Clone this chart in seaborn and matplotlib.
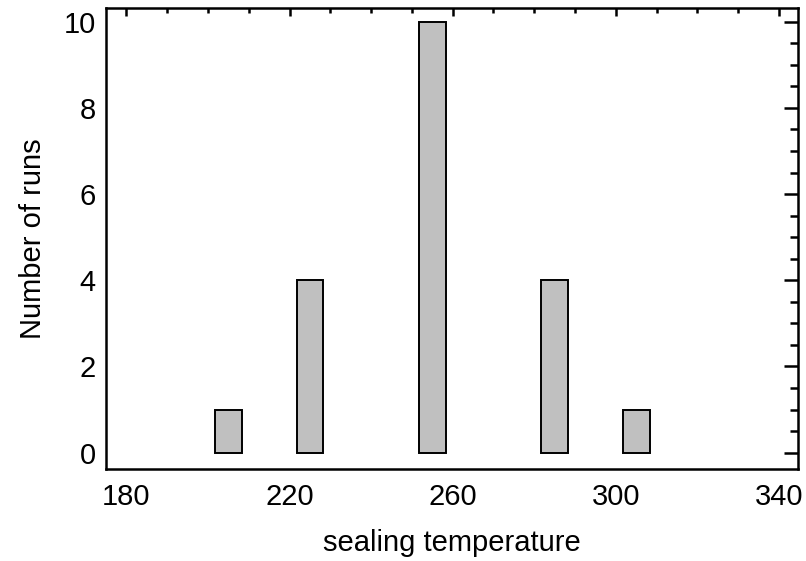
import numpy as np
import matplotlib
matplotlib.use("Agg")
import matplotlib.pyplot as plt
import seaborn as sns
from matplotlib.ticker import MultipleLocator

# data
temperatures = [205, 225, 255, 285, 305]
runs = [1, 4, 10, 4, 1]
x_ticks = [180, 220, 260, 300, 340]

sns.set_theme(style="white")
plt.rcParams['font.family'] = ['Liberation Sans', 'DejaVu Sans']

fig = plt.figure(figsize=(8.06, 5.61), dpi=100)
ax = fig.add_axes([0.1311, 0.164, 0.8586, 0.821])

sns.barplot(x=temperatures, y=runs, native_scale=True, width=0.33,
            color="#C0C0C0", saturation=1, edgecolor="black", linewidth=1.4,
            errorbar=None, ax=ax)

ax.set_xlim(174.9, 344.6)
ax.set_ylim(-0.38, 10.31)
ax.set_xticks(x_ticks)
ax.set_xticklabels([str(t) for t in x_ticks])
ax.xaxis.set_minor_locator(MultipleLocator(10))
ax.yaxis.set_major_locator(MultipleLocator(2))
ax.yaxis.set_minor_locator(MultipleLocator(0.5))

ax.tick_params(axis="both", which="both", direction="in", colors="black",
               top=True, right=True, width=1.8)
ax.tick_params(axis="y", which="major", length=10, labelsize=21, pad=7)
ax.tick_params(axis="y", which="minor", length=5.5)
ax.tick_params(axis="x", which="major", length=6, labelsize=21, pad=10)
ax.tick_params(axis="x", which="minor", length=3.5)

for s in ax.spines.values():
    s.set_visible(True)
    s.set_color("black")
    s.set_linewidth(1.8)

ax.set_xlabel("sealing temperature", fontsize=21, labelpad=13, color="black")
ax.set_ylabel("Number of runs", fontsize=21, labelpad=12, color="black")

fig.savefig("out.png", dpi=100, facecolor="white")
